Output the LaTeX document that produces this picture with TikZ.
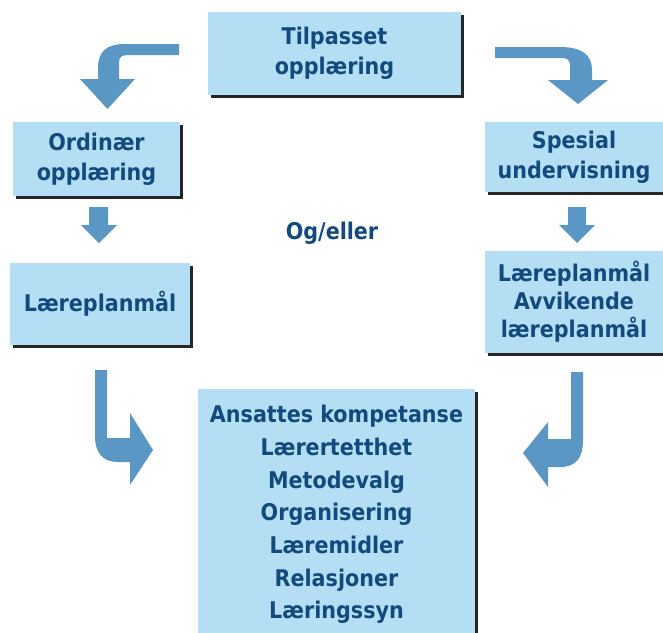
\documentclass[tikz,border=0pt]{standalone}
\usepackage{fontspec}
\setmainfont{DejaVuSansCondensed-Bold.ttf}
\usetikzlibrary{shadows}
\definecolor{boxfill}{HTML}{B4DEF4}
\definecolor{txtc}{HTML}{134A7E}
\definecolor{arrowc}{HTML}{5B97C4}
\begin{document}
\begin{tikzpicture}[x=1pt,y=-1pt,
  box/.style={rectangle, fill=boxfill, inner sep=0pt, align=center, text=txtc,
    font=\fontsize{23}{30}\selectfont,
    drop shadow={shadow xshift=2.5pt, shadow yshift=-2.5pt, fill=black!85, opacity=1}},
  arr/.style={fill=arrowc, draw=none}]
\useasboundingbox (0,0) rectangle (663,632);
\fill[white] (0,0) rectangle (663,632);

\node[box, minimum width=253pt, minimum height=83pt] (tp) at (334.5,53.5) {Tilpasset\\opplæring};
\node[box, minimum width=167pt, minimum height=74pt] (ord) at (96.5,159) {Ordinær\\opplæring};
\node[box, minimum width=178pt, minimum height=70pt] (spes) at (574,157) {Spesial\\undervisning};
\node[box, minimum width=180pt, minimum height=82pt] (lp1) at (100,304) {Læreplanmål};
\node[box, minimum width=178pt, minimum height=102pt, font=\fontsize{23}{28}\selectfont] (lp2) at (574,302) {Læreplanmål\\Avvikende\\læreplanmål};
\node[box, minimum width=277pt, minimum height=251pt, font=\fontsize{23}{32.7}\selectfont] (res) at (336.5,514.5)
  {Ansattes kompetanse\\Lærertetthet\\Metodevalg\\Organisering\\Læremidler\\Relasjoner\\Læringssyn};
\node[text=txtc, font=\fontsize{23}{26}\selectfont] (og) at (332,233) {Og/eller};

% top-left bent arrow
\fill[arr] (179,44) -- (125,44) .. controls (106,44) and (98,52) .. (98,68) -- (98,79) -- (80,79)
  -- (107.5,109) -- (135,79) -- (119,79) -- (119,62) .. controls (119,57) and (122,55) .. (128,55)
  -- (179,55) -- cycle;
% top-right bent arrow
\fill[arr] (495,47) -- (560,47) .. controls (582,47) and (592,55) .. (592,70) -- (592,80) -- (608,80)
  -- (578,104) -- (548,80) -- (570,80) -- (570,65) .. controls (570,60) and (567,58) .. (562,58)
  -- (495,58) -- cycle;
% small down arrows
\fill[arr] (89,207) -- (108,207) -- (108,225) -- (117,225) -- (99,243) -- (81,225) -- (89,225) -- cycle;
\fill[arr] (568,207) -- (586,207) -- (586,225) -- (595,225) -- (577,243) -- (559,225) -- (568,225) -- cycle;
% bottom-left arrow
\fill[arr] (95,370) -- (107,370) -- (107,438) -- (130,438) -- (130,413) -- (153,450) -- (130,485)
  -- (130,462) -- (118,462) .. controls (102,462) and (95,452) .. (95,436) -- cycle;
% bottom-right arrow
\fill[arr] (571,372) -- (583,372) -- (583,440) .. controls (583,458) and (576,467) .. (560,467)
  -- (548,467) -- (548,487) -- (523,453) -- (548,422) -- (548,439) -- (571,439) -- cycle;
\end{tikzpicture}
\end{document}
